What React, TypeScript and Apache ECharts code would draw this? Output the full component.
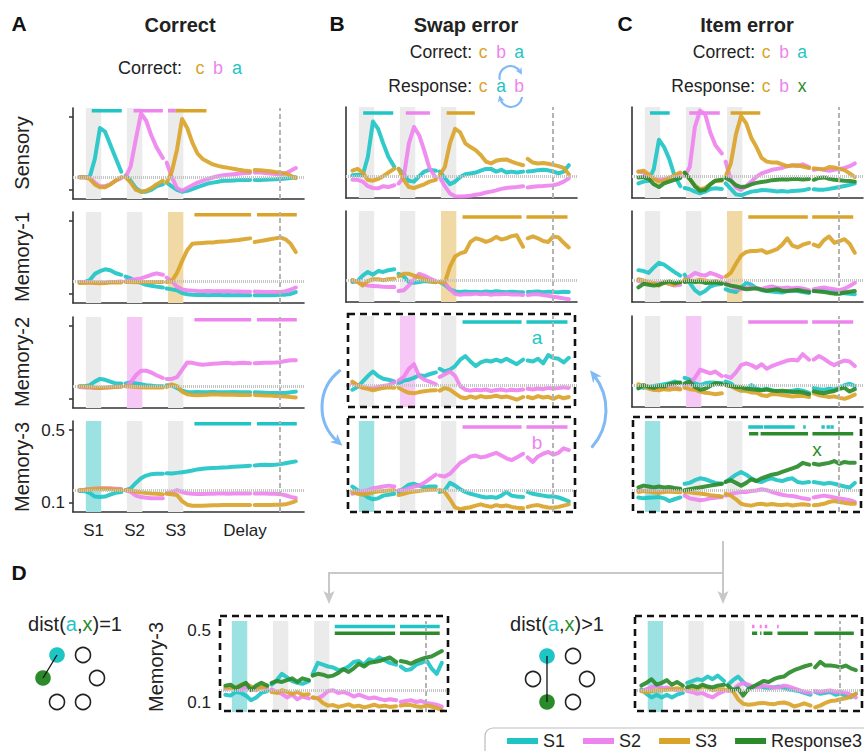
import React, { useEffect, useRef } from "react";
import * as echarts from "echarts";

// ---------- time stamps (s) of decoding samples, per recorded segment ----------
const SEG_T1 = [-0.25, -0.05, 0.15, 0.35, 0.55, 0.75, 0.95, 1.15, 1.38];
const SEG_T2 = [1.55, 1.75, 1.95, 2.15, 2.35, 2.55, 2.75, 3.0];
const SEG_T3 = [3.15, 3.35, 3.55, 3.75, 3.95, 4.15, 4.35, 4.55, 4.75, 4.95, 5.15, 5.35, 5.55, 5.75, 5.95, 6.15, 6.4];
const SEG_T4 = [6.58, 6.78, 6.98, 7.18, 7.38, 7.58, 7.78, 7.98, 8.18];
const SEGMENTS = [SEG_T1, SEG_T2, SEG_T3, SEG_T4];

const STIM_ONSETS = [0, 1.6, 3.2];
const STIM_DUR = 0.6;
const RESPONSE_T = 7.55;
const CHANCE = 1 / 6;
const EPOCH_LABELS = ["S1", "S2", "S3", "Delay"];
const EPOCH_POS = [0.3, 1.9, 3.5, 6.2];
const Y_TICKS = [0.1, 0.5];
const LEGEND_NAMES = ["S1", "S2", "S3", "Response3"];

// ---------- decoding accuracy (x100) ----------
// A: correct trials
const A_SENS_S1 = [17,17,17,27,44,42,35,28,20, 18,15,11,9,9,10,12,13, 14,12,10,9,9.5,10.5,11.5,12.5,13.5,14,14.5,15,15,15.2,15.4,15.5,15.5, 15.5,15.5,15.6,15.7,15.8,16,16.2,16.5,17];
const A_SENS_S2 = [17,17,16.5,14,12,12,13,15,16.5, 17,23,38,52,48,40,33.5,27.5, 25,17,11,9.5,11,12.5,14,15,16,16.8,17.5,18,18.3,18.6,18.9,19.1,19.3, 19.5,19.5,19.3,19,18.8,18.5,19,20.5,22];
const A_SENS_S3 = [17,17,16,13,11.5,11.5,13,15,17, 17,14,10,9,9.5,11,13,15, 14,20,32,49,44,36,30,27,25.5,24,23.2,22.6,22.1,21.6,21.1,20.7,20.3, 21,20.8,20.5,20.2,19.8,19.5,19,17.8,16.5];
const A_MEM1_S1 = [16.5,16.5,17.5,21,22.5,23.5,23,21.5,20.5, 19.5,18.5,17,16,15,14.5,14,13.5, 13,12.5,12,10.5,9.8,9.5,9.4,9.5,9.3,9.4,9.5,9.3,9.4,9.3,9.4,9.3,9.2, 9.3,9.2,9.3,9.3,9.4,9.5,9.6,10,11];
const A_MEM1_S2 = [16.5,16.5,16.4,16.3,16.2,16.3,16.5,16.5,16.8, 17,17.5,18,18.5,19.5,20.5,21.3,20.5, 19,17,14,12.5,12,11.8,11.6,11.5,11.6,11.5,11.4,11.5,11.4,11.3,11.3,11.2,11.2, 11.3,11.2,11.1,11,11,11.1,11.5,12.3,13.5];
const A_MEM1_S3 = [16,16,16.2,16,15.8,16,16.2,16.3,16.3, 16.5,16.5,16.4,16.5,16.6,16.5,16.5,16.6, 16.5,17,21.5,28,34,37.5,37.8,38,38.2,38.3,38.6,38.8,39,39.3,39.6,40,40.5, 38.5,39,39.5,40,40.5,41,40,37.5,33];
const A_MEM2_S1 = [17,17,17.5,19.5,21,20.5,19.5,18.5,18.5, 18.5,19,18.5,18,17.5,17.3,17,17, 17.5,17.3,16,14.5,13.8,13.6,13.8,13.7,13.6,13.8,13.7,13.6,13.7,13.8,13.7,13.6,13.6, 13.6,13.5,13.4,13.3,13.3,13.2,13.3,13.6,14];
const A_MEM2_S2 = [16.5,16.3,16.2,16,16,16.1,16.3,16.5,16.7, 17,19,23,25.5,25.5,24.5,23,21.5, 21,21,22,26,30,29.8,29.2,28.8,29,29.3,29.5,29.7,29.8,29.5,29.7,29.8,29.6, 29.6,29.7,29.8,29.9,30,30.2,30.8,31.2,31.3];
const A_MEM2_S3 = [16.8,16.8,16.6,16.2,16,16.2,16.5,16.6,16.8, 17,16.8,16.6,16.4,16.3,16.3,16.2,16.2, 16.5,18,17,14,12.5,12.1,12,12.2,12.3,12.5,12.4,12.3,12.4,12.3,12.2,12.2,12.1, 12.2,12,11.9,11.8,11.6,11.5,11.3,11,10.8];
const A_MEM3_S1 = [16.5,16.5,15.5,13.5,13.2,13.5,14.5,15.5,16, 17,18,21,23.5,25,25.8,26,26, 26.3,26.2,26.5,26.8,27.3,27.8,28.4,28.8,29,29.2,29.3,29.5,29.6,29.8,30,30.2,30.4, 30.6,30.8,31,30.8,31,31.3,31.8,32.3,32.8];
const A_MEM3_S2 = [17,17.2,17.5,17.8,18,18,18,17.8,17.6, 17,16,14,13.2,12.8,12.6,12.6,12.6, 15.4,15.8,17,16,15.3,15,14.9,14.9,15,15,15.1,15.1,15,15.1,15.2,15.2,15.2, 15.2,15.2,15.1,15,15,14.8,14.2,13.3,12.7];
const A_MEM3_S3 = [17,17.2,17.5,17.8,17.8,17.8,17.6,17.4,17.3, 17,16.8,16.3,15.8,15.5,15.2,15,14.8, 15,14.8,14.3,11,9,8.4,8.4,8.5,8.6,8.7,8.7,8.8,8.8,8.9,8.9,8.9,8.9, 8.8,8.8,8.9,8.9,9,9,9.2,10,11];
// B: swap error trials
const B_SENS_S1 = [17.5,17.8,17.5,27.5,47,43,35,27.7,22.2, 21,18,14.5,14,17,19.5,20.5,20, 19.5,16,12.5,14,16.5,18,18.5,19,20,21,21,19.5,20.5,19,19.5,19,19.5, 19.5,19.8,20.3,20.5,20.2,19.5,18.5,19.5,23];
const B_SENS_S2 = [15,15,14,11.5,10.5,10.3,11.5,11,12, 13,16.5,35,44,39.5,31,21.5,16, 16.5,11.5,7.5,6,5.8,6,6.2,6.8,7.2,8,8.5,9.2,10,10.5,10.8,11,11.5, 10.8,11.2,11.5,11.6,11.8,12,12.8,14,15.8];
const B_SENS_S3 = [20,21,19,15,14.5,15.5,17,19,21, 21,15,11,10.5,11.5,12.5,14,15, 17.5,22,35,43,41,35,33,31.3,28.6,25,24,25.5,26,26.2,25,24,23, 26.5,24.5,24,24.2,23.8,23.2,22.5,21.5,18];
const B_MEM1_S1 = [16,16.5,19.5,21.5,20,22,21.5,22.5,23, 20.5,19,16,15.5,16,16.5,16.2,16, 16,14.5,12,10.8,10.5,10.8,10.5,10.7,10.4,10.8,10.5,10.9,10.6,10.4,10.7,10.5,10.4, 10.5,10.6,10.8,10.4,10.7,10.5,10.4,10.6,10.5];
const B_MEM1_S2 = [17,16,15,14,13.8,13.6,13.4,13.3,13.2, 11,11.5,14,17.5,20.5,19.5,18,16.5, 16,15.5,12,9.5,9,9.4,9.2,9.6,9.3,9.5,9,9.4,9.2,9.5,9.1,9.3,8.9, 8.8,9.2,9.3,8.8,8.4,7.9,7.5,7,6.5];
const B_MEM1_S3 = [17,16,14,16.5,17.5,17.5,17,17.5,17.8, 19,20.5,20.5,19.5,18.5,17.5,16.5,15.8, 16,15.6,24.4,30,31.7,32.6,38,40,39.3,38,39,40.8,39.3,40,41.2,41.7,35.3, 40,41,40,38.5,38,41,40.5,37.5,35];
const B_MEM2_S1 = [14.5,16,19,22,24.5,22,20.5,20,19, 18,19.5,20,21,22.5,22,23,24, 26,24.5,25.5,27.5,31,33,30,27.5,29.5,30.5,30,31,30,31.5,30,28.5,31, 30.5,30,31.5,29,33.5,32,31.5,29.5,32];
const B_MEM2_S2 = [18,17,16,15.5,15.2,16,16.5,17,18.5, 19.5,21.5,26,28.5,22,20,19,17.5, 21.5,23,24.5,22,16.5,14.5,14,14.5,14.2,14.6,13.8,14.3,14.6,14,14.5,14.2,14.6, 15,14.6,15.2,14.8,15.5,15.2,15.4,15.8,15.5];
const B_MEM2_S3 = [19,17,15.5,15,14.2,14.8,15.5,15.8,15.6, 15.6,14,12.8,12.5,13.2,13.6,14,14.2, 14,15.5,14.5,12.5,10.5,9.8,10.8,10,11,10.3,10.6,11.2,10.4,10.8,10,9,10.5, 10.5,9.8,11,10.2,10.6,9.5,10.8,9.8,10.5];
const B_MEM3_S1 = [19,17,15,13,12,12.5,14,14.5,15, 16,18,20,20.5,19.5,18.5,19,19, 16,17,21,19.5,17.5,16,15,14.3,13.5,13,13.3,12.8,14,16,14,13.5,13.3, 16,15,14.5,14,13.5,13.6,13,12,10.8];
const B_MEM3_S2 = [15,16,16.5,17,18,18.5,19,19.5,19, 17,17,18,19,19.5,21,23,25.5, 25,24.5,26,29,32,33.5,35.5,36,35,35.5,36.5,37.5,36,34.5,33.5,35,37, 35,32.5,35.5,37,38,36.5,37.5,40,39];
const B_MEM3_S3 = [16,15,14.5,15,15.8,16.2,16.5,16.8,17, 14.3,15,15.8,16.3,16.6,17,17.2,17.4, 17,16,12,7.5,6.6,7.2,7.6,8.5,9.2,8.4,7.8,8.8,8.2,8.6,7.8,7.3,7, 7.8,8.5,8.8,8,7.5,7.3,7.8,8.5,9.2];
// C: item error trials
const C_SENS_S1 = [13,14,14.5,21,37,33,26.5,17.5,11.5, 10.5,9.8,8.5,7.6,8.5,10,10.3,10, 13,10,7,6.5,7.5,8.5,8.8,9.4,9.2,9,8.6,8.8,8.5,8.8,9,9.2,10, 9.8,9.5,9.6,10,10.5,11,11.6,12.2,13];
const C_SENS_S2 = [19.5,19,17,15.5,15,15.5,16.2,17,18, 17,22,44,53,51,41,34,29.5, 25,15,10.8,9.4,11.6,14,16.7,18.5,19.5,20.5,21,21.5,22.5,23,22.5,23.5,22, 20.5,21,20.5,20,20.5,21,21.5,22.5,24];
const C_SENS_S3 = [19.5,20,18,15.5,14,14.5,16,17.5,19, 18.5,15.5,12,9.8,10.5,12.5,14.5,14.5, 17,24,40,50,46,38,33,27,25,24.5,24.5,23.5,22.5,22.8,23,22.3,21.5, 21.3,21,20.8,22,21.8,21,20.3,18.5,16.5];
const C_SENS_R3 = [16.3,16.5,15.5,12.5,11,13,14,15,16, 19,15.5,11.5,9,9.5,12.5,14.5,15, 16,14.5,12,11,11.3,12.5,13.3,13.8,14.2,14.8,15,15.3,15.2,15.5,15.4,15.2,15.5, 15,16,16.3,15.5,15,14.8,14.5,14.3,14];
const C_MEM1_S1 = [22.5,22,21,24,26.5,25.5,23.5,21.5,19.5, 20,15.5,11.5,9.5,11,13.5,14.5,15, 12,11,10.5,13,15.5,14.5,12.5,11.5,11,10.8,10.5,10.2,11,11.3,11,10.5,10, 11,11.5,11.8,11,10.5,10,9.8,9.5,9.2];
const C_MEM1_S2 = [16.5,16,15.5,15,15.5,15.8,15,14,14.5, 16.5,19,21,20,19.5,21,20,18.5, 15.5,14,12.5,12,12.8,13,12.5,12.2,13,13.5,12.8,12.6,13,12.5,12.8,12.4,11.5, 12,12.6,13,12.4,12,11.5,12.3,13.8,15.5];
const C_MEM1_S3 = [17.5,16.8,16,15.5,14,16,15,14.5,16, 17.5,16.8,16.5,17.2,16.8,16.2,16.5,15.8, 19,21,26,30.5,32.5,33,33,33.5,32,33,34,36.5,40,36,35,36.5,37.5, 36.5,35.5,39,41,37.5,38.5,39.5,37,32];
const C_MEM1_R3 = [13,15,14.5,14,14.5,15.5,16.3,15.5,15.8, 16,16.5,16,16.2,15.5,15.6,15.8,15.2, 14.7,14,13.5,12.8,12,12.3,12.5,11.8,11.2,11.6,12,11.2,11,11.3,11.6,11,10.5, 11,10.8,10.5,10,9.6,9.5,10.2,10.6,11];
const C_MEM2_S1 = [16,15.5,16,16.5,17,17.5,18,19,18, 21,20,18,17,18,18.5,18.3,18.2, 19,18,15.5,14,14.5,17,15,14.5,15,14.2,13.6,13.2,13.5,14,14.5,14,12.8, 15.4,14.8,14.5,15,14.6,15.5,17,17.8,16.5];
const C_MEM2_S2 = [17,16.5,16,14.5,15,15,15.5,16,15, 16,18,21,25.5,24.5,23.5,24.5,22, 22,21,24,28,29,28,26.5,28.5,26,27.5,28.5,29.5,30.5,31,30.5,34,31, 31,33,31.5,29.5,28,29.5,30.5,30,27.5];
const C_MEM2_S3 = [17.5,16.5,15,14.5,14.2,14.8,14.5,15,14.6, 15.5,14.8,14.5,13.5,12.8,12.5,12,12.5, 17,16.5,15,14,13.8,13,12.8,11.5,11,12.2,12,11.6,11.2,10.8,11,11.2,10.5, 12.5,11.5,11,10.5,10.8,10,9.5,10.5,11.8];
const C_MEM2_R3 = [15.2,17,16,15.5,16.5,16.2,17.5,18,18.5, 18,19,16,14.5,15,16.5,18,17.5, 17.2,16.5,16,15.8,15.2,14.8,14.5,14.2,14.6,14,13.8,14,13.6,13.2,13.4,13,12, 13.6,13,12.6,13.2,13.8,15,15.5,13.5,14.8];
const C_MEM3_S1 = [13,12.5,12.8,13,13.2,12.5,11,12,13, 20.5,21,22.5,23.5,23,22,21,20.5, 21.5,23.5,25.5,27,25.5,23.5,22,21.5,22.8,23.5,22.5,22,23,23.5,21.5,21,21.5, 21.5,21,20.5,21,20.5,19.8,19,18.5,21];
const C_MEM3_S2 = [17,16.8,16.5,16.2,16,16.4,16.8,17.5,17.2, 14,12.5,12,11.5,11.8,12.5,12.8,13.2, 14,15,15.5,16,16,16.5,16.8,17.5,17,16,15.2,14.5,14,13.8,13.2,12.5,12, 13,13.5,14,13.5,13,12.5,12,11.5,10.5];
const C_MEM3_S3 = [16,16.5,16.2,15.8,15.5,16,16.2,16,15.8, 16,15.8,15.5,15.2,14.8,14.2,14,13.5, 15,14,12,9.5,8.8,8.5,9.2,9.5,9,9.4,9,8.8,9.2,8.6,9,9.2,8.8, 8.7,9,9.5,10.5,11,10.5,10,9.6,9.5];
const C_MEM3_R3 = [18.5,19.5,19,18.5,19,18.5,18.8,18.2,17.8, 17,17.5,18,18.5,19,19.5,20,20.5, 21.5,22.5,21,19.5,21,23,22,23.5,24.5,25.5,26,27,28,29,30,32,31, 31.5,31,31.5,32,33,31.5,32.5,32,32];
// D: item error split by distance
const D_L_S1 = [14.5,14,16,15.5,14,11.5,13,15.5,16.5, 20,22.5,26,24,22,21,20.5,22, 26,32,31,30,29.5,28,28.5,30,32.5,33,31,34,33,35,33.5,32,31, 30,28,28.5,31,32,33.5,29,26,32];
const D_L_S2 = [17.5,18,18.5,17,18.5,17.5,17,18.5,18.3, 17.5,16,15,13,14.5,12,13.5,12.5, 13,12.5,14,16.5,17,15.5,16,15,13.5,14.5,13.5,12.5,13,12.2,11.5,12,11.5, 10.5,11,11.5,10.5,11,10,9.5,9,8];
const D_L_S3 = [18.5,18,18.5,20,20.5,19,17.5,18.5,19, 16,15.5,17,16,15,16,14.5,14.8, 13,12.5,10,8.5,8.8,7.8,8.5,9.2,8,8.5,7.5,8.2,9,8,8.5,7.8,8.2, 8.5,9,8.8,8.2,7.8,8.5,8,7.2,6];
const D_L_R3 = [19.5,20,18,19.5,21,17,19.5,21,19.5, 21,22,21.5,22.5,23.5,21.5,23.5,22.5, 25,26,25.5,24.5,25,26.5,28.5,27,29,31.5,30,32,32.5,33,34,35,32.5, 33,32.5,31.5,33,34,35,35.5,37,38.5];
const D_R_S1 = [17.5,15,13,14.5,13,14.5,13,14.5,15.5, 21,22,23,22.5,24.5,23,25,22, 20,22.5,24.5,21.5,19,18.5,19.5,18.5,18,18.5,19,18.2,17.5,17,16.5,15.5,14.5, 16,15,15.5,16,14.5,15,14,13,15];
const D_R_S2 = [16.5,17.5,18.5,19.5,18,18.5,17.5,17,17.5, 16.5,16,15,15.5,14,13,15,16.5, 16.5,17,19.5,21,20,19,18.5,19.5,19,18.5,18.5,19.5,19,18,17,16,15.5, 16.5,16,16.5,16.8,16,16.2,15.5,14.5,13];
const D_R_S3 = [16.5,16,16.5,16.8,17,17.2,17.5,18,17.5, 18.5,18,17.5,19,18.5,17,17.5,17.5, 17.5,16.5,12,9.5,9,9.2,9.8,10,9.5,9.2,10,10.2,9.5,8,8.8,9.8,8.5, 7.5,8.5,10,11,11.3,12,12.5,13.5,15];
const D_R_R3 = [19.5,21,23,20,21,22.5,20,21.5,19.5, 18.5,19.5,18.5,20,19,18.5,19.5,20, 19.5,17,18,14,17.5,19,20.5,22,21.5,23,24,24.5,26.5,28,29,30,31, 29.5,32.5,30.5,30.5,30.2,29.5,30.5,29,28];

// ---------- significant time windows (s) ----------
const SIG_A_SENS_S1 = [[0.23, 1.4]];
const SIG_A_SENS_S2 = [[1.86, 3.0], [3.2, 3.5]];
const SIG_A_SENS_S3 = [[3.5, 4.7]];
const SIG_A_DELAY = [[4.23, 6.44], [6.67, 8.22]];
const SIG_B_SENS_S1 = [[0.17, 1.34]];
const SIG_B_SENS_S2 = [[1.83, 2.77]];
const SIG_B_SENS_S3 = [[3.42, 4.52]];
const SIG_B_DELAY = [[4.04, 6.34], [6.53, 8.13]];
const SIG_C_SENS_S1 = [[0.2, 0.97]];
const SIG_C_SENS_S2 = [[1.73, 2.92]];
const SIG_C_SENS_S3 = [[3.34, 4.5]];
const SIG_C_DELAY = [[4.03, 6.35], [6.52, 8.12]];
const SIG_C_MEM3_S1 = [[4.03, 4.61], [4.64, 5.84], [6.17, 6.27], [6.88, 7.01], [7.08, 7.21], [7.23, 7.36]];
const SIG_C_MEM3_R3 = [[4.06, 4.42], [4.51, 6.36], [6.53, 8.12]];
const SIG_D_L = [[4.01, 6.36], [6.55, 8.1]];
const SIG_D_R_S2 = [[4.1, 4.2], [4.4, 4.48], [4.6, 4.7], [5.08, 5.15]];
const SIG_D_R_R3 = [[4.1, 4.3], [4.42, 4.47], [4.55, 4.9], [5.1, 6.3], [6.55, 8.1]];

// ---------- style ----------
const FONT = '"Liberation Sans", Arial, Helvetica, sans-serif';
const COLOR: Record<string, string> = { S1: "#1fc4c4", S2: "#ee84ee", S3: "#daa42a", Response3: "#2b8b2b" };
const BAND_COLOR: Record<string, string> = { S1: "#9de2e2", S2: "#f5c8f5", S3: "#f0d9a4" };
const GRAY_BAND = "#ebebeb";
const INK = "#222";
const GRID_W = 231;
const GRID_H = 91;
const LINE_W = 4;

type Panel = {
  left: number; top: number; axes: boolean; ticks: boolean; yLabels: boolean; xLabels: boolean;
  hl: string | null; lines: [string, number[]][]; sig: [string, number[][], number][];
};

const PANELS: Panel[] = [
  { left: 73, top: 108, axes: true, ticks: true, yLabels: false, xLabels: false, hl: null,
    lines: [["S1", A_SENS_S1], ["S2", A_SENS_S2], ["S3", A_SENS_S3]],
    sig: [["S1", SIG_A_SENS_S1, 0.535], ["S2", SIG_A_SENS_S2, 0.535], ["S3", SIG_A_SENS_S3, 0.535]] },
  { left: 73, top: 212, axes: true, ticks: true, yLabels: false, xLabels: false, hl: "S3",
    lines: [["S1", A_MEM1_S1], ["S2", A_MEM1_S2], ["S3", A_MEM1_S3]], sig: [["S3", SIG_A_DELAY, 0.535]] },
  { left: 73, top: 317, axes: true, ticks: true, yLabels: false, xLabels: false, hl: "S2",
    lines: [["S1", A_MEM2_S1], ["S2", A_MEM2_S2], ["S3", A_MEM2_S3]], sig: [["S2", SIG_A_DELAY, 0.535]] },
  { left: 73, top: 421, axes: true, ticks: true, yLabels: true, xLabels: true, hl: "S1",
    lines: [["S1", A_MEM3_S1], ["S2", A_MEM3_S2], ["S3", A_MEM3_S3]], sig: [["S1", SIG_A_DELAY, 0.535]] },

  { left: 346, top: 107, axes: true, ticks: false, yLabels: false, xLabels: false, hl: null,
    lines: [["S1", B_SENS_S1], ["S2", B_SENS_S2], ["S3", B_SENS_S3]],
    sig: [["S1", SIG_B_SENS_S1, 0.517], ["S2", SIG_B_SENS_S2, 0.517], ["S3", SIG_B_SENS_S3, 0.517]] },
  { left: 346, top: 211, axes: true, ticks: false, yLabels: false, xLabels: false, hl: "S3",
    lines: [["S1", B_MEM1_S1], ["S2", B_MEM1_S2], ["S3", B_MEM1_S3]], sig: [["S3", SIG_B_DELAY, 0.517]] },
  { left: 346, top: 316, axes: false, ticks: false, yLabels: false, xLabels: false, hl: "S2",
    lines: [["S1", B_MEM2_S1], ["S2", B_MEM2_S2], ["S3", B_MEM2_S3]], sig: [["S1", SIG_B_DELAY, 0.517]] },
  { left: 346, top: 421, axes: false, ticks: false, yLabels: false, xLabels: false, hl: "S1",
    lines: [["S1", B_MEM3_S1], ["S2", B_MEM3_S2], ["S3", B_MEM3_S3]], sig: [["S2", SIG_B_DELAY, 0.517]] },

  { left: 632, top: 107, axes: true, ticks: false, yLabels: false, xLabels: false, hl: null,
    lines: [["S1", C_SENS_S1], ["S2", C_SENS_S2], ["S3", C_SENS_S3], ["Response3", C_SENS_R3]],
    sig: [["S1", SIG_C_SENS_S1, 0.517], ["S2", SIG_C_SENS_S2, 0.517], ["S3", SIG_C_SENS_S3, 0.517]] },
  { left: 632, top: 211, axes: true, ticks: false, yLabels: false, xLabels: false, hl: "S3",
    lines: [["S1", C_MEM1_S1], ["S2", C_MEM1_S2], ["S3", C_MEM1_S3], ["Response3", C_MEM1_R3]],
    sig: [["S3", SIG_C_DELAY, 0.517]] },
  { left: 632, top: 316, axes: true, ticks: false, yLabels: false, xLabels: false, hl: "S2",
    lines: [["S1", C_MEM2_S1], ["S2", C_MEM2_S2], ["S3", C_MEM2_S3], ["Response3", C_MEM2_R3]],
    sig: [["S2", SIG_C_DELAY, 0.517]] },
  { left: 632, top: 421, axes: false, ticks: false, yLabels: false, xLabels: false, hl: "S1",
    lines: [["S1", C_MEM3_S1], ["S2", C_MEM3_S2], ["S3", C_MEM3_S3], ["Response3", C_MEM3_R3]],
    sig: [["S1", SIG_C_MEM3_S1, 0.517], ["Response3", SIG_C_MEM3_R3, 0.48]] },

  { left: 219, top: 621, axes: false, ticks: false, yLabels: true, xLabels: false, hl: "S1",
    lines: [["S1", D_L_S1], ["S2", D_L_S2], ["S3", D_L_S3], ["Response3", D_L_R3]],
    sig: [["S1", SIG_D_L, 0.52], ["Response3", SIG_D_L, 0.483]] },
  { left: 635, top: 621, axes: false, ticks: false, yLabels: false, xLabels: false, hl: "S1",
    lines: [["S1", D_R_S1], ["S2", D_R_S2], ["S3", D_R_S3], ["Response3", D_R_R3]],
    sig: [["S2", SIG_D_R_S2, 0.52], ["Response3", SIG_D_R_R3, 0.483]] },
];

function lineData(vals: number[]) {
  const out: any[] = [];
  let k = 0;
  SEGMENTS.forEach((seg, si) => {
    if (si > 0) out.push([seg[0] - 0.05, "-"]);
    seg.forEach((t) => {
      out.push([t, vals[k] / 100]);
      k++;
    });
  });
  return out;
}

function sigData(intervals: number[][], y: number) {
  const out: any[] = [];
  intervals.forEach(([s, e], k) => {
    if (k > 0) out.push([s - 0.005, "-"]);
    out.push([s, y], [e, y]);
  });
  return out;
}

function buildSeries() {
  const series: any[] = [];
  PANELS.forEach((p, i) => {
    const hlIdx = p.hl ? ["S1", "S2", "S3"].indexOf(p.hl) : -1;
    series.push({
      type: "line", name: "_bg" + i, xAxisIndex: i, yAxisIndex: i, data: [], z: 1, silent: true,
      markArea: {
        silent: true,
        data: STIM_ONSETS.map((s, k) => [
          { xAxis: s, itemStyle: { color: k === hlIdx ? BAND_COLOR[p.hl as string] : GRAY_BAND, opacity: 1 } },
          { xAxis: s + STIM_DUR },
        ]),
      },
      markLine: {
        silent: true, symbol: ["none", "none"], label: { show: false },
        data: [
          { xAxis: RESPONSE_T, lineStyle: { color: "#b4b4b4", type: [5, 3], width: 2 } },
          { yAxis: CHANCE, lineStyle: { color: "#c4c4c4", type: [1, 1], width: 3 } },
        ],
      },
    });
    p.lines.forEach(([key, vals]) => {
      series.push({
        type: "line", name: key, xAxisIndex: i, yAxisIndex: i, data: lineData(vals),
        symbol: "none", showSymbol: false, connectNulls: false, silent: true, z: 3,
        lineStyle: { color: COLOR[key], width: LINE_W, opacity: 0.92, join: "round", cap: "round" },
        itemStyle: { color: COLOR[key] },
      });
    });
    p.sig.forEach(([key, ints, y]) => {
      series.push({
        type: "line", name: "sig", xAxisIndex: i, yAxisIndex: i, data: sigData(ints, y),
        symbol: "none", showSymbol: false, connectNulls: false, silent: true, z: 3,
        lineStyle: { color: COLOR[key], width: 3.5, cap: "butt" },
        itemStyle: { color: COLOR[key] },
      });
    });
  });
  return series;
}

function T(text: string, x: number, y: number, o: any = {}) {
  return {
    type: "text", x, y, rotation: o.rot || 0, silent: true, z: 100,
    style: {
      text, fill: o.color || INK, fontSize: o.size || 17.5, fontWeight: o.weight || "normal", fontFamily: FONT,
      align: o.align || "center", textAlign: o.align || "center", verticalAlign: "middle", textVerticalAlign: "middle",
      rich: o.rich,
    },
  };
}

function arcWithHead(cx: number, cy: number, r: number, a0: number, a1: number, headAt: "start" | "end", len: number, wid: number, color: string, lw: number) {
  const d2r = Math.PI / 180;
  const ang = (headAt === "start" ? a0 : a1) * d2r;
  const sgn = headAt === "start" ? -1 : 1;
  const px = cx + r * Math.cos(ang), py = cy + r * Math.sin(ang);
  const tx = -Math.sin(ang) * sgn, ty = Math.cos(ang) * sgn;
  const nx = -ty, ny = tx;
  const tip = [px + tx * len * 0.55, py + ty * len * 0.55];
  const b1 = [px - tx * len * 0.45 + (nx * wid) / 2, py - ty * len * 0.45 + (ny * wid) / 2];
  const b2 = [px - tx * len * 0.45 - (nx * wid) / 2, py - ty * len * 0.45 - (ny * wid) / 2];
  const notch = [px - tx * len * 0.15, py - ty * len * 0.15];
  return [
    { type: "arc", z: 100, silent: true, shape: { cx, cy, r, startAngle: a0 * d2r, endAngle: a1 * d2r, clockwise: true },
      style: { stroke: color, lineWidth: lw, fill: "none", lineCap: "round" } },
    { type: "polygon", z: 100, silent: true, shape: { points: [tip, b1, notch, b2] }, style: { fill: color } },
  ];
}

function buildGraphics() {
  const el: any[] = [];
  const bold = { size: 21, weight: "bold", color: "#111" };
  el.push(T("A", 19, 23, bold), T("B", 337, 23, bold), T("C", 625, 23, bold), T("D", 19, 572, bold));
  const ttl = { size: 20, weight: "bold" };
  el.push(T("Correct", 180, 25, ttl), T("Swap error", 466, 25, ttl), T("Item error", 747, 25, ttl));

  const row = (label: string, rx: number, y: number, letters: [string, string][], xs: number[], size: number) => {
    el.push(T(label, rx, y, { align: "right", size }));
    letters.forEach(([ch, key], k) => el.push(T(ch, xs[k], y, { color: COLOR[key], size })));
  };
  row("Correct:", 182, 68, [["c", "S3"], ["b", "S2"], ["a", "S1"]], [200, 218, 237], 18);
  row("Correct:", 472, 52, [["c", "S3"], ["b", "S2"], ["a", "S1"]], [483, 501, 519], 17.5);
  row("Response:", 472, 86, [["c", "S3"], ["a", "S1"], ["b", "S2"]], [483, 501, 519], 17.5);
  row("Correct:", 755, 52, [["c", "S3"], ["b", "S2"], ["a", "S1"]], [766, 784, 802], 17.5);
  row("Response:", 755, 86, [["c", "S3"], ["b", "S2"], ["x", "Response3"]], [766, 784, 802], 17.5);

  const rot = { rot: Math.PI / 2, size: 20 };
  el.push(T("Sensory", 22, 153, rot), T("Memory-1", 22, 257, rot), T("Memory-2", 22, 362, rot), T("Memory-3", 22, 467, rot));
  el.push(T("Memory-3", 156, 667, rot));

  el.push(T("a", 537, 337, { color: COLOR.S1, size: 19 }));
  el.push(T("b", 537, 442, { color: COLOR.S2, size: 19 }));
  el.push(T("x", 817, 449, { color: COLOR.Response3, size: 19 }));

  const rich = {
    a: { fill: COLOR.S1, fontSize: 20, fontFamily: FONT },
    x: { fill: COLOR.Response3, fontSize: 20, fontFamily: FONT },
  };
  el.push(T("dist({a|a},{x|x})=1", 75, 624, { size: 20, rich }));
  el.push(T("dist({a|a},{x|x})>1", 557, 624, { size: 20, rich }));

  const open = (cx: number, cy: number) => ({ type: "circle", z: 100, silent: true, shape: { cx, cy, r: 7.5 }, style: { fill: "#fff", stroke: "#222", lineWidth: 1.6 } });
  const filled = (cx: number, cy: number, c: string) => ({ type: "circle", z: 100, silent: true, shape: { cx, cy, r: 7.8 }, style: { fill: c } });
  const seg = (x1: number, y1: number, x2: number, y2: number, c: string, w: number, z = 101) => ({ type: "line", z, silent: true, shape: { x1, y1, x2, y2 }, style: { stroke: c, lineWidth: w } });
  el.push(open(83, 655), open(97, 678), open(57, 702), open(83, 702), filled(57, 655, COLOR.S1), filled(43, 678, COLOR.Response3), seg(57, 655, 43, 678, "#111", 1.3));
  el.push(open(573, 656), open(533, 679), open(587, 679), open(573, 702), filled(547, 656, COLOR.S1), filled(547, 702, COLOR.Response3), seg(547, 656, 547, 702, "#111", 1.3));

  const box = (x: number, y: number, w: number, h: number) => ({ type: "rect", z: 100, silent: true, shape: { x, y, width: w, height: h }, style: { fill: "none", stroke: "#111", lineWidth: 2.6, lineDash: [7, 5] } });
  el.push(box(348, 314, 227, 93), box(348, 417, 227, 95), box(633, 417, 228, 95), box(220, 616, 228, 95), box(635, 616, 227, 95));

  const blue = "#7fbaf6";
  el.push(...arcWithHead(368, 407, 46, 131.5, 232, "start", 12, 11, blue, 3));
  el.push(...arcWithHead(550, 410, 56, -38, 41, "start", 12, 11, blue, 3));
  el.push(...arcWithHead(510.5, 77, 11, 170, 330, "end", 7, 7, blue, 2.2));
  el.push(...arcWithHead(511, 96, 11, 10, 165, "end", 7, 7, blue, 2.2));

  const gray = "#c8c8c8";
  el.push(seg(723, 541, 723, 596, gray, 2, 90), seg(329, 573, 723, 573, gray, 2, 90), seg(329, 572, 329, 596, gray, 2, 90));
  const head = (x: number) => ({ type: "polygon", z: 90, silent: true, shape: { points: [[x - 5.5, 591], [x, 604], [x + 5.5, 591], [x, 594]] }, style: { fill: gray } });
  el.push(head(723), head(329));

  el.push({ type: "rect", z: 90, silent: true, shape: { x: 485, y: 728, width: 420, height: 40, r: 8 }, style: { fill: "none", stroke: "#bdbdbd", lineWidth: 1.2 } });
  return el;
}

function buildOption() {
  return {
    animation: false,
    backgroundColor: "#fff",
    textStyle: { fontFamily: FONT },
    legend: {
      data: LEGEND_NAMES, left: 507, top: 732, width: 400, padding: 0, orient: "horizontal",
      icon: "rect", itemWidth: 31, itemHeight: 6, itemGap: 18,
      selectedMode: false, textStyle: { fontSize: 18, color: INK, fontFamily: FONT },
    },
    grid: PANELS.map((p) => ({ left: p.left, top: p.top, width: GRID_W, height: GRID_H })),
    xAxis: PANELS.map((p, i) => ({
      type: "value", gridIndex: i, min: -0.5, max: 8.5,
      axisLine: { show: p.axes, onZero: false, lineStyle: { color: "#333", width: 1.6 } },
      axisTick: { show: false }, splitLine: { show: false },
      axisLabel: p.xLabels
        ? { show: true, customValues: EPOCH_POS, fontSize: 17, color: INK, margin: 10, fontFamily: FONT,
            formatter: (v: number) => EPOCH_LABELS[EPOCH_POS.findIndex((q) => Math.abs(q - v) < 0.01)] ?? "" }
        : { show: false },
    })),
    yAxis: PANELS.map((p, i) => ({
      type: "value", gridIndex: i, min: 0.05, max: 0.55,
      axisLine: { show: p.axes, onZero: false, lineStyle: { color: "#333", width: 1.6 } },
      axisTick: { show: p.ticks, customValues: Y_TICKS, length: 4, lineStyle: { color: "#333", width: 1.5 } },
      splitLine: { show: false },
      axisLabel: p.yLabels
        ? { show: true, customValues: Y_TICKS, fontSize: 17, color: INK, margin: 8, fontFamily: FONT, formatter: (v: number) => v.toFixed(1) }
        : { show: false },
    })),
    series: buildSeries(),
    graphic: { elements: buildGraphics() },
  };
}

export default function App() {
  const ref = useRef<HTMLDivElement>(null);
  useEffect(() => {
    const chart = echarts.init(ref.current as HTMLDivElement, null, { renderer: "svg" });
    chart.setOption(buildOption() as any);
    return () => chart.dispose();
  }, []);
  return <div ref={ref} style={{ position: "fixed", left: 0, top: 0, width: 864, height: 751, background: "#fff" }} />;
}
